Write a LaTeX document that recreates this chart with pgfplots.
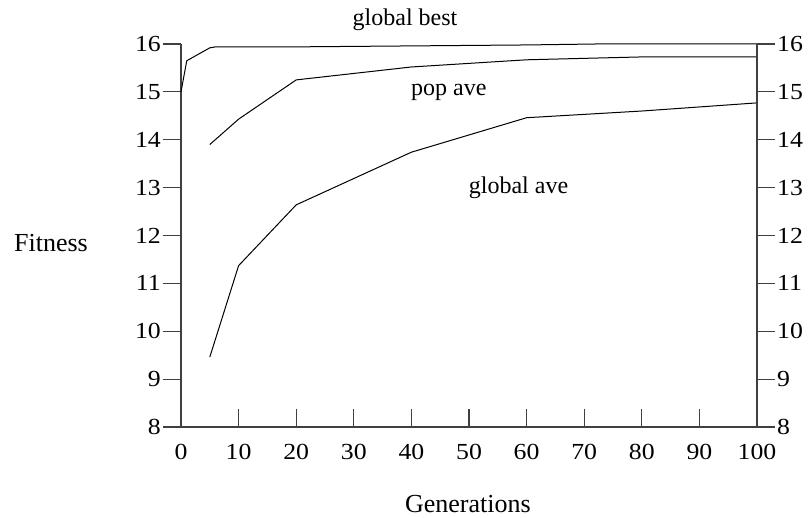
\documentclass[border=0pt]{standalone}
\usepackage{fontspec}
\setmainfont{Liberation Serif}
\newfontfamily\tickfont{Liberation Serif}[FakeStretch=1.12]
\usepackage{pgfplots}
\pgfplotsset{compat=1.18}
\begin{document}
\begin{tikzpicture}[x=1pt,y=1pt]
\path[use as bounding box] (0,0) rectangle (812,518);
\pgfplotsset{
  common/.style={
    at={(181pt,91pt)}, anchor=south west,
    scale only axis, width=576pt, height=383pt,
    xmin=0, xmax=100, ymin=8, ymax=16,
    tick align=outside,
    major tick length=18pt,
    axis line style={-, black!75, line width=1.1pt},
    every tick/.style={black!75, line width=1.1pt},
    tick label style={font=\tickfont\fontsize{23}{27}\selectfont},
    ytick={8,9,...,16},
    xtick={0,10,...,100},
    /pgf/number format/assume math mode=true,
  }
}
\begin{axis}[common,
  axis x line*=bottom, axis y line*=left,
  xtick pos=lower, ytick pos=left,
  xtick style={yshift=18pt},
  xticklabel style={inner sep=0pt, yshift=1pt},
  yticklabel style={inner sep=2pt},
  clip=false,
]
\addplot[black, line width=1pt, sharp plot] coordinates {
 (0,15.0) (1,15.65) (5,15.92) (6,15.94) (20,15.94) (40,15.96) (60,15.98) (72,16.0) (100,16.0)};
\addplot[black, line width=1pt, sharp plot] coordinates {
 (5,13.90) (10,14.43) (20,15.25) (40,15.52) (60,15.67) (80,15.73) (100,15.73)};
\addplot[black, line width=1pt, sharp plot] coordinates {
 (5,9.46) (10,11.37) (20,12.64) (40,13.74) (60,14.46) (80,14.60) (100,14.77)};
\node[font=\fontsize{24}{28}\selectfont] at (axis cs:38.9,16.50) {global best};
\node[font=\fontsize{24}{28}\selectfont] at (axis cs:46.5,14.98) {pop ave};
\node[font=\fontsize{24}{28}\selectfont] at (axis cs:58.6,13.0) {global ave};
\node[font=\fontsize{26}{31}\selectfont] at (rel axis cs:-0.2257,0.4804) {Fitness};
\node[font=\fontsize{26}{31}\selectfont] at (rel axis cs:0.498,-0.201) {Generations};
\end{axis}
\begin{axis}[common,
  axis x line=none, axis y line*=right,
  ytick pos=right, yticklabel pos=right,
  yticklabel style={inner sep=2pt},
]
\end{axis}
\end{tikzpicture}
\end{document}
